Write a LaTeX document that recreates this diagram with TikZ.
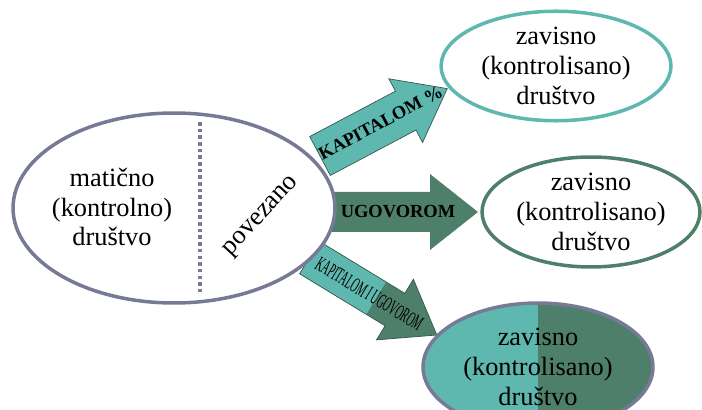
\documentclass[tikz,border=0pt]{standalone}
\usepackage{fontspec}
\setmainfont{Liberation Serif}
\newfontfamily\uskifont[FakeStretch=0.46]{Liberation Serif}
\usetikzlibrary{shapes.geometric}
\definecolor{tirkiz}{HTML}{5FB8B0}
\definecolor{zelena}{HTML}{4D7F6B}
\definecolor{sivoplava}{HTML}{767A96}
% block arrow along +x: #2 length, #3 head length, #4 shaft half width, #5 head half width
\newcommand{\blockarrow}[5][]{\path[#1] (0,-#4) -- ({#2-#3},-#4) -- ({#2-#3},-#5) -- (#2,0) -- ({#2-#3},#5) -- ({#2-#3},#4) -- (0,#4) -- cycle;}
\tikzset{
  firmtext/.style={font=\fontsize{15}{17}\selectfont, align=center, text=black},
  firm/.style={ellipse, line width=2pt, fill=white, inner sep=0pt},
  arrowtext/.style={font=\fontsize{10.5}{12}\selectfont\bfseries, transform shape, inner sep=0pt},
}

\begin{document}
\begin{tikzpicture}[x=0.02cm,y=0.02cm]
	\clip (0,0) rectangle (702,409);
	
	% strelice
	\begin{scope}[shift={(320,253)},rotate=27.9]
		\blockarrow[fill=tirkiz,draw=zelena!70!black,thin]{144}{47}{22}{36}
		\node[arrowtext] (kapital) at (69,1) {KAPITALOM \%};
	\end{scope}
	
	\begin{scope}[shift={(320,197)}]
		\blockarrow[fill=zelena]{158}{48}{20}{38}
		\node[arrowtext] (ugovor) at (78,0) {UGOVOROM};
	\end{scope}
	
	\begin{scope}[shift={(309.5,151.4)},rotate=-31.3]
		\blockarrow[fill=zelena]{149}{49}{19}{35.5}
		\fill[tirkiz] (0,-19) rectangle (78,19);
		\blockarrow[draw=zelena!70!black,thin]{149}{49}{19}{35.5}
		\node[arrowtext,font=\fontsize{12}{13}\selectfont\uskifont] (oboje) at (70,0) {KAPITALOM I UGOVOROM};
	\end{scope}
	
	% maticno drustvo
	\node[firm, draw=sivoplava, minimum width=6.44cm, minimum height=3.8cm] (maticno) at (174,201) {};
	\draw[sivoplava, line width=2pt, dash pattern=on 2pt off 1.8pt] (200,287) -- (200,116);
	\node[firmtext] (maticnotxt) at (112,202) {matično\\(kontrolno)\\društvo};
	\node[firmtext, rotate=47] (povezano) at (262,192) {povezano};
	
	% zavisna drustva
	\node[firm, firmtext, draw=tirkiz, minimum width=4.6cm, minimum height=2.16cm] (zavisno1) at (556,343) {zavisno\\(kontrolisano)\\društvo};
	\node[firm, firmtext, draw=zelena, minimum width=4.36cm, minimum height=2.2cm] (zavisno2) at (591,197) {zavisno\\(kontrolisano)\\društvo};
	\node[firm, firmtext, draw=sivoplava, minimum width=4.6cm, minimum height=2.56cm,
		path picture={
			\fill[tirkiz] (path picture bounding box.south west) rectangle (path picture bounding box.north);
			\fill[zelena] (path picture bounding box.south) rectangle (path picture bounding box.north east);
		}] (zavisno3) at (538,42) {zavisno\\(kontrolisano)\\društvo};
\end{tikzpicture}
\end{document}
